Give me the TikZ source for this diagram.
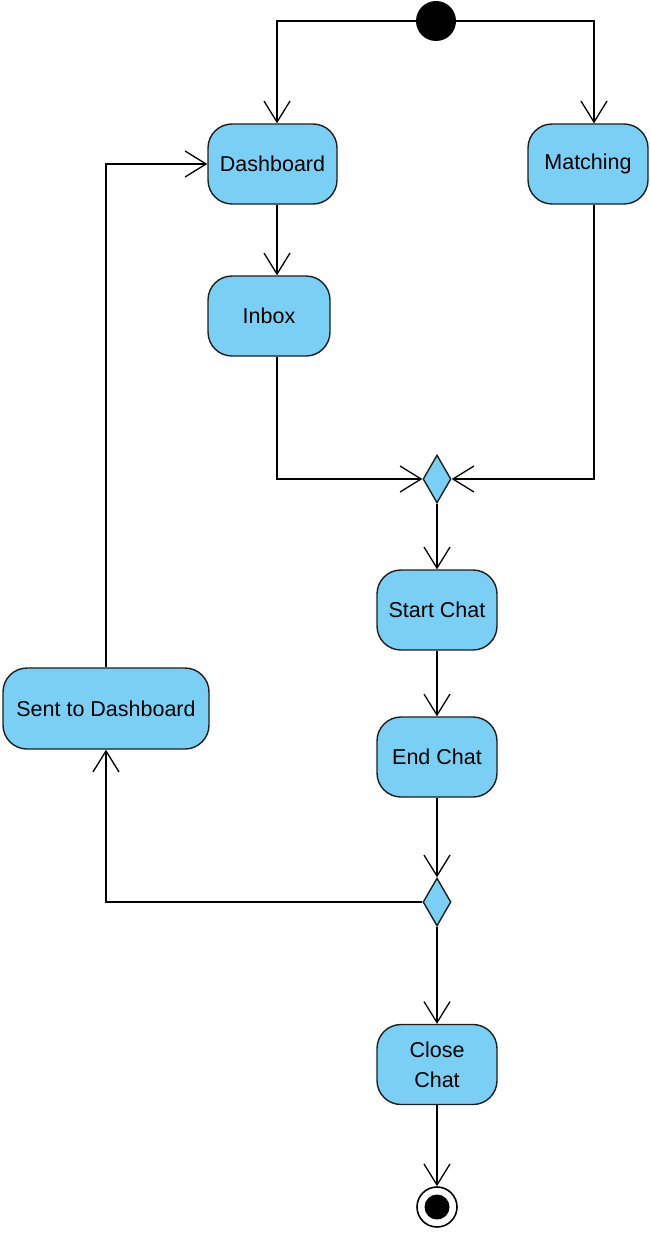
\documentclass[tikz,border=0pt]{standalone}
\usepackage{fontspec}
\setmainfont{Liberation Sans}
\usetikzlibrary{arrows.meta,shapes.geometric}
\definecolor{actfill}{RGB}{122,207,245}
\definecolor{edge}{RGB}{30,30,30}
\tikzset{
  act/.style={draw=edge, fill=actfill, rounded corners=24pt, line width=1.4pt,
    minimum width=120pt, minimum height=80pt, inner sep=0pt, align=center,
    font=\fontsize{21.5}{30}\selectfont},
  dec/.style={draw=edge, fill=actfill, diamond, line width=1.4pt,
    minimum width=28pt, minimum height=48pt, inner sep=0pt},
  conn/.style={draw=black, line width=1.3pt,
    -{Straight Barb[length=21pt, width=26pt, line width=1.3pt]}},
  plain/.style={draw=black, line width=1.3pt}
}
\begin{document}
\begin{tikzpicture}[x=1pt,y=-1pt]
\useasboundingbox (0,0) rectangle (649,1234);
% nodes
\node[circle, fill=black, minimum size=40pt, inner sep=0pt] (init) at (436,21) {};
\node[act, minimum width=129pt] (dash) at (272.5,164) {Dashboard};
\node[act] (match) at (588,164) {Matching};
\node[act, minimum width=122pt] (inbox) at (269,316) {Inbox};
\node[dec] (d1) at (437,479) {};
\node[act] (start) at (437,610) {Start Chat};
\node[act] (endc) at (437,757) {End Chat};
\node[dec] (d2) at (437,902) {};
\node[act, minimum width=206pt, minimum height=81pt] (sent) at (106,708.5) {Sent to Dashboard};
\node[act] (close) at (437,1064.5) {Close\\Chat};
\node[circle, draw=black, line width=1.6pt, minimum size=40pt, inner sep=0pt,
  path picture={\fill[black] (path picture bounding box.center) circle (12.5pt);}] (final) at (437,1207) {};
% connectors
\draw[conn] (init.west) -| ([xshift=4.5pt]dash.north);
\draw[conn] (init.east) -| ([xshift=6pt]match.north);
\draw[conn] ([xshift=4.5pt]dash.south) -- ([xshift=8pt]inbox.north);
\draw[conn] ([xshift=8pt]inbox.south) |- (d1.west);
\draw[conn] ([xshift=6pt]match.south) |- (d1.east);
\draw[conn] (d1.south) -- (start.north);
\draw[conn] (start.south) -- (endc.north);
\draw[conn] (endc.south) -- (d2.north);
\draw[conn] (d2.west) -| (sent.south);
\draw[conn] (d2.south) -- (close.north);
\draw[conn] (close.south) -- (final.north);
\draw[conn] (sent.north) |- (dash.west);
\end{tikzpicture}
\end{document}
